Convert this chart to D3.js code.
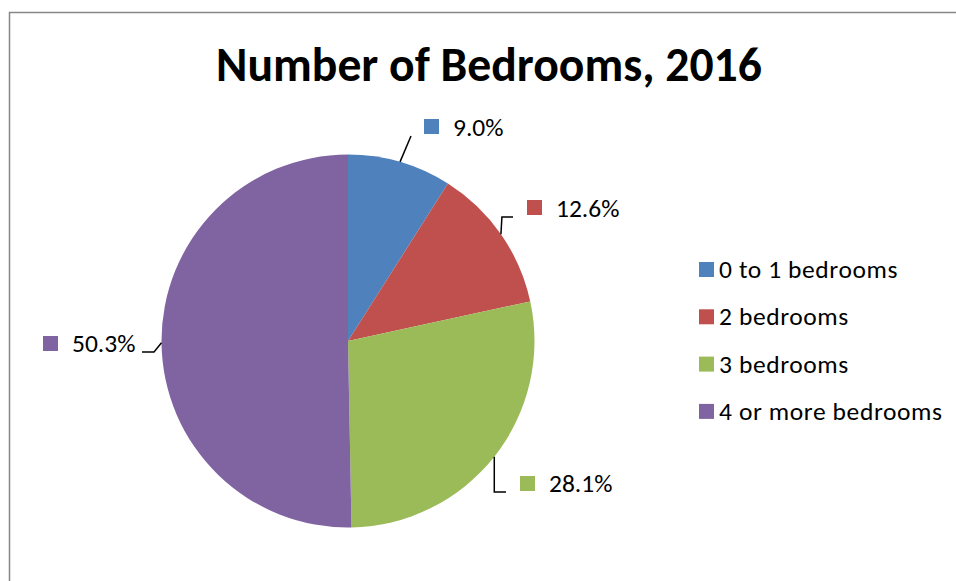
<!DOCTYPE html>
<html><head><meta charset="utf-8">
<script src="https://cdn.jsdelivr.net/npm/d3@7"></script>
<style>
html,body{margin:0;padding:0;background:#fff;}
svg text{font-family:Carlito,Lato,"Open Sans",sans-serif;fill:#000;}
</style></head>
<body>
<svg id="chart" width="956" height="581"></svg>
<script>
const title = "Number of Bedrooms, 2016";
const categories = ["0 to 1 bedrooms", "2 bedrooms", "3 bedrooms", "4 or more bedrooms"];
const values = [9.0, 12.6, 28.1, 50.3];
const colors = ["#4F81BD", "#C0504D", "#9BBB59", "#8064A2"];

const svg = d3.select("#chart");
// outer border
svg.append("rect").attr("x", 9.5).attr("y", 12.5).attr("width", 960).attr("height", 600)
  .attr("fill", "none").attr("stroke", "#868686").attr("stroke-width", 1.5);

// title
const t = svg.append("text").attr("x", 489).attr("y", 81).attr("text-anchor", "middle")
  .attr("font-weight", "bold").attr("font-size", 41).text(title);
const tw = t.node().getComputedTextLength();
t.attr("font-size", 41 * 546 / tw);

const cx = 348, cy = 341, r = 186.5;
const pie = d3.pie().sort(null).value(d => d)(values);
const arc = d3.arc().innerRadius(0).outerRadius(r);
const g = svg.append("g").attr("transform", `translate(${cx},${cy})`);
g.selectAll("path").data(pie).join("path")
  .attr("d", arc).attr("fill", (d, i) => colors[i]);

const fmt = d3.format(".1f");
const fs = 25.5;
// label layout: elbow / end points relative to the centre, and label box position
const layout = [
  {pts: [[63, -205]], sq: [76, -222], base: -205},
  {pts: [[154, -124], [165, -124]], sq: [179, -141], base: -124},
  {pts: [[145, 151], [158, 151]], sq: [172, 135], base: 151},
  {pts: [[-194, 11], [-206, 11]], sq: [-305, -5], base: 11}
];
const line = d3.line();
pie.forEach((d, i) => {
  const a = (d.startAngle + d.endAngle) / 2;
  const start = [Math.sin(a) * r, -Math.cos(a) * r];
  const L = layout[i];
  let pts = [start].concat(L.pts);
  if (i === 1) pts = [start, [start[0] + 1, L.pts[0][1]], L.pts[1]];
  if (i === 2) pts = [start, [start[0], L.pts[0][1]], L.pts[1]];
  g.append("path").attr("d", line(pts)).attr("fill", "none")
    .attr("stroke", "#000").attr("stroke-width", 1.5);
  g.append("rect").attr("x", L.sq[0]).attr("y", L.sq[1]).attr("width", 15).attr("height", 15)
    .attr("fill", colors[i]);
  g.append("text").attr("x", L.sq[0] + 29).attr("y", L.base).attr("font-size", fs)
    .text(fmt(values[i]) + "%");
});

// legend
const leg = svg.append("g").attr("transform", "translate(699,262)");
categories.forEach((c, i) => {
  const y = i * 47.3;
  leg.append("rect").attr("x", 0).attr("y", y).attr("width", 15).attr("height", 15).attr("fill", colors[i]);
  leg.append("text").attr("x", 20).attr("y", y + 16).attr("font-size", fs)
    .attr("letter-spacing", 0.6).text(c);
});
</script>
</body></html>
